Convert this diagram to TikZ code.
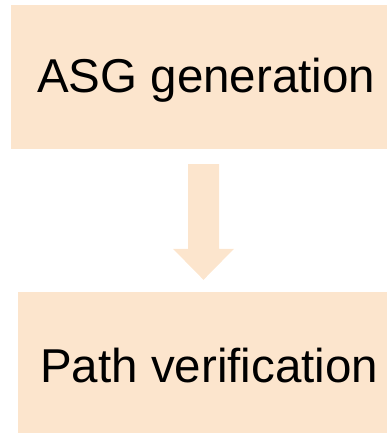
\documentclass[tikz,border=0pt]{standalone}
\usepackage{fontspec}
\setmainfont{Liberation Sans}
\usetikzlibrary{calc}
\definecolor{peach}{HTML}{FCE5CD}
\tikzset{
  stagebox/.style={fill=peach, draw=none, inner sep=0pt, anchor=center},
  stagetext/.style={inner sep=0pt, anchor=base west, text=black,
    font=\fontsize{47.5}{57}\selectfont},
  flowarrow/.style={fill=peach, draw=none}
}
\begin{document}
\begin{tikzpicture}[x=1pt,y=-1pt]
  \useasboundingbox (0,0) rectangle (387,433);
  % stage boxes
  \node[stagebox, minimum width=376pt, minimum height=144pt] (gen) at (199,77) {};
  \node[stagebox, minimum width=369pt, minimum height=141pt] (ver) at (202.5,362.5) {};
  % stage labels
  \node[stagetext] (gentext) at (37,93) {ASG generation};
  \node[stagetext] (vertext) at (40,382) {Path verification};
  % block arrow between the stages
  \coordinate (atop) at ($(gen.south -| 203.5,0)+(0,15)$);
  \coordinate (atip) at ($(ver.north -| 203.5,0)+(0,-12)$);
  \fill[flowarrow]
    ($(atop)+(-15.5,0)$) -- ($(atop)+(15.5,0)$)
    -- ($(atip)+(15.5,-31)$) -- ($(atip)+(30.5,-31)$)
    -- (atip)
    -- ($(atip)+(-30.5,-31)$) -- ($(atip)+(-15.5,-31)$) -- cycle;
\end{tikzpicture}
\end{document}
